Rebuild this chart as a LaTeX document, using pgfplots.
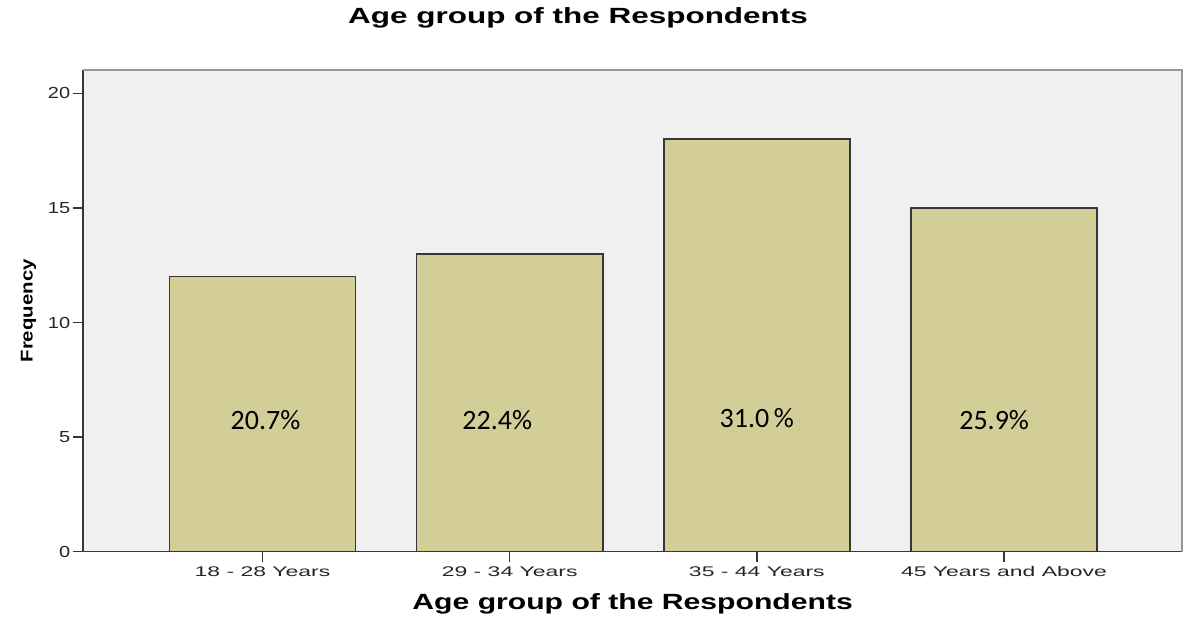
\documentclass[border=0pt]{standalone}
\usepackage{pgfplots}
\pgfplotsset{compat=1.18}
\usepackage{fontspec}
\setmainfont{Liberation Sans}
\newfontfamily\calib{Carlito}
\definecolor{bgc}{RGB}{240,240,240}
\definecolor{barc}{RGB}{211,206,152}
\definecolor{edgec}{RGB}{55,55,55}
\definecolor{framec}{RGB}{150,150,150}
\begin{document}
\begin{tikzpicture}[x=1pt,y=1pt]
\path[use as bounding box] (-83.3pt,-65.3pt) rectangle (1099.7pt,551.7pt);
\begin{axis}[
  at={(0pt,0pt)}, anchor=south west,
  scale only axis, width=1098.7pt, height=481.7pt,
  xmin=-0.725, xmax=3.72, ymin=0, ymax=21.02,
  axis background/.style={fill=bgc},
  axis x line*=bottom, axis y line*=left,
  axis line style={edgec, line width=1.6pt, -},
  ytick={0,5,10,15,20},
  xtick={0,1,2,3},
  xticklabels={18 - 28 Years,29 - 34 Years,35 - 44 Years,45 Years and Above},
  tick style={edgec, line width=1.4pt},
  major tick length=10pt,
  tick align=outside,
  /pgf/number format/assume math mode=true,
  xticklabel style={font=\fontsize{14}{16}\selectfont, text=black!85, xscale=1.64, yshift=-1pt},
  yticklabel style={font=\fontsize{16}{18}\selectfont, text=black!85, xscale=1.25, xshift=1pt},
  xlabel={\textbf{Age group of the Respondents}},
  xlabel style={font=\fontsize{22}{26}\selectfont, xscale=1.37, yshift=-10pt},
  ylabel={\textbf{Frequency}},
  ylabel style={font=\fontsize{17}{20}\selectfont, xscale=1.2, yshift=4pt},
  clip=false,
]
\addplot[ybar, bar width=0.753, fill=barc, draw=edgec, line width=1.6pt, bar shift=0pt]
  coordinates {(0,12) (1,13) (2,18) (3,15)};
\draw[framec, line width=1.5pt] (rel axis cs:0,1) -- (rel axis cs:1,1) -- (rel axis cs:1,0);
\node[font=\calib\fontsize{28}{32}\selectfont] at (axis cs:0.012,5.75) {20.7\%};
\node[font=\calib\fontsize{28}{32}\selectfont] at (axis cs:0.95,5.75) {22.4\%};
\node[font=\calib\fontsize{28}{32}\selectfont] at (axis cs:2.0,5.85) {31.0\,\%};
\node[font=\calib\fontsize{28}{32}\selectfont] at (axis cs:2.96,5.75) {25.9\%};
\node[font=\bfseries\fontsize{22}{26}\selectfont, xscale=1.43] at (rel axis cs:0.4503,1.0) [yshift=52pt] {Age group of the Respondents};
\end{axis}
\end{tikzpicture}
\end{document}
